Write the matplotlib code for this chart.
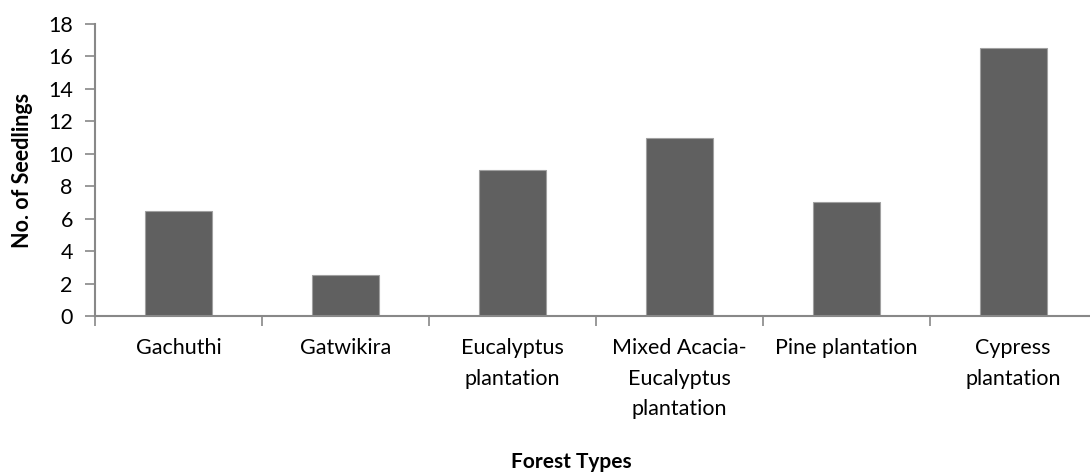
import matplotlib.pyplot as plt

plt.rcParams['font.family'] = ['Lato', 'DejaVu Sans']

# seedling counts per forest type
forest_types = ['Gachuthi', 'Gatwikira', 'Eucalyptus\nplantation',
                'Mixed Acacia-\nEucalyptus\nplantation', 'Pine plantation',
                'Cypress\nplantation']
seedlings = [6.5, 2.5, 9, 11, 7, 16.5]
y_ticks = [0, 2, 4, 6, 8, 10, 12, 14, 16, 18]

fig = plt.figure(figsize=(10.9, 4.73), dpi=100)
ax = fig.add_axes([95/1090, 1-316/473, 1-95/1090, 292/473])

x = range(len(forest_types))
ax.bar(x, seedlings, width=0.4, color='#606060', edgecolor='#a0a0a0', linewidth=0.8, zorder=2)

ax.set_xlim(-0.5, 5.46)
ax.set_ylim(0, 18)
ax.set_yticks(y_ticks)

# category separators as ticks between bars
ax.set_xticks([i - 0.5 for i in range(len(forest_types))])
ax.set_xticklabels([])
ax.set_xticks(list(x), minor=True)
ax.set_xticklabels(forest_types, minor=True, fontsize=15.5, linespacing=1.65)
ax.tick_params(axis='x', which='minor', length=0, pad=16)
ax.tick_params(axis='x', which='major', length=7, width=1.2, color='#888888', direction='out')
ax.tick_params(axis='y', length=7, width=1.2, color='#888888', labelsize=15.5, pad=9)

for side in ['top', 'right']:
    ax.spines[side].set_visible(False)
for side in ['left', 'bottom']:
    ax.spines[side].set_color('#888888')
    ax.spines[side].set_linewidth(1.5)

ax.set_ylabel('No. of Seedlings', fontsize=15.5, fontweight='bold', labelpad=11)
fig.text(571/1090, 1-462/473, 'Forest Types', fontsize=15, fontweight='bold', ha='center', va='center')

fig.savefig('out.png', dpi=100)
